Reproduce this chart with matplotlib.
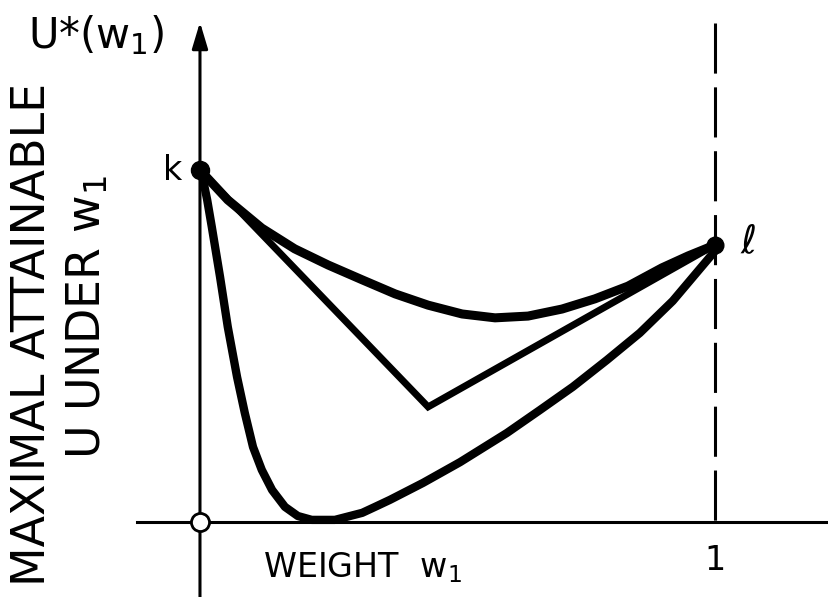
import matplotlib
matplotlib.use("Agg")
from matplotlib import pyplot as plt

# --- data (weight w1 on x, attainable U on y) ---
upper_x = [0.0, 0.054, 0.120, 0.184, 0.249, 0.315, 0.379, 0.443, 0.509, 0.573, 0.637,
           0.703, 0.767, 0.831, 0.897, 0.948, 1.0]
upper_y = [1.0, 0.915, 0.835, 0.776, 0.730, 0.688, 0.648, 0.616, 0.591, 0.580, 0.585,
           0.605, 0.634, 0.670, 0.722, 0.756, 0.787]

middle_x = [0.0, 0.443, 1.0]
middle_y = [1.0, 0.327, 0.787]

lower_x = [0.0, 0.006, 0.014, 0.023, 0.039, 0.054, 0.072, 0.087, 0.103, 0.120, 0.140, 0.165,
           0.190, 0.217, 0.262, 0.315, 0.340, 0.369, 0.433, 0.505, 0.596, 0.660, 0.724,
           0.790, 0.854, 0.918, 1.0]
lower_y = [1.0, 0.972, 0.915, 0.838, 0.696, 0.554, 0.412, 0.310, 0.213, 0.148, 0.091, 0.043,
           0.017, 0.006, 0.006, 0.026, 0.043, 0.063, 0.111, 0.170, 0.253, 0.318, 0.384,
           0.460, 0.537, 0.628, 0.770]

k_point = (0.0, 1.0)
l_point = (1.0, 0.787)
origin = (0.0, 0.0)

# --- canvas ---
fig = plt.figure(figsize=(8.29, 5.97), dpi=100)
ax = fig.add_axes([0, 0, 1, 1])
ax.set_xlim(-0.3883, 1.2214)
ax.set_ylim(-0.2131, 1.4830)
ax.axis("off")

# axes
ax.plot([-0.122, 1.23], [0, 0], color="black", lw=2.2, zorder=2)
ax.annotate("", xy=(0, 1.42), xytext=(0, -0.25),
            arrowprops=dict(arrowstyle="-|>,head_length=1.0,head_width=0.3",
                            mutation_scale=16, lw=2.2, color="black", shrinkA=0, shrinkB=0))
ax.plot([1.0, 1.0], [1.418, 0.0], color="black", lw=2.2,
        linestyle=(0, (16.4, 4.5)), zorder=2)

# curves
ax.plot(upper_x, upper_y, color="black", lw=6.5, solid_joinstyle="round", solid_capstyle="round", zorder=3)
ax.plot(middle_x, middle_y, color="black", lw=5, solid_joinstyle="miter", solid_capstyle="round", zorder=3)
ax.plot(lower_x, lower_y, color="black", lw=6, solid_joinstyle="round", solid_capstyle="round", zorder=3)

# points
ax.plot(*k_point, "o", color="black", ms=13, zorder=4)
ax.plot(*l_point, "o", color="black", ms=12, zorder=4)
ax.plot(*origin, "o", mfc="white", mec="black", mew=2, ms=13, zorder=4)

# labels
ax.text(-0.334, 1.347, "U*(w$_1$)", fontsize=30, ha="left", va="baseline")
ax.text(-0.054, 1.0, "k", fontsize=24, ha="center", va="center")
ax.text(1.064, 0.795, r"$\ell$", fontsize=28, ha="center", va="center")
ax.text(0.122, -0.156, "WEIGHT  w$_1$", fontsize=24, ha="left", va="baseline")
ax.text(1.0, -0.108, "1", fontsize=24, ha="center", va="center")
ax.text(-0.326, 0.534, "MAXIMAL ATTAINABLE", fontsize=33, rotation=90, ha="center", va="center")
ax.text(-0.217, 0.582, "U UNDER w$_1$", fontsize=33, rotation=90, ha="center", va="center")

plt.savefig("out.png", dpi=100)
plt.close()
